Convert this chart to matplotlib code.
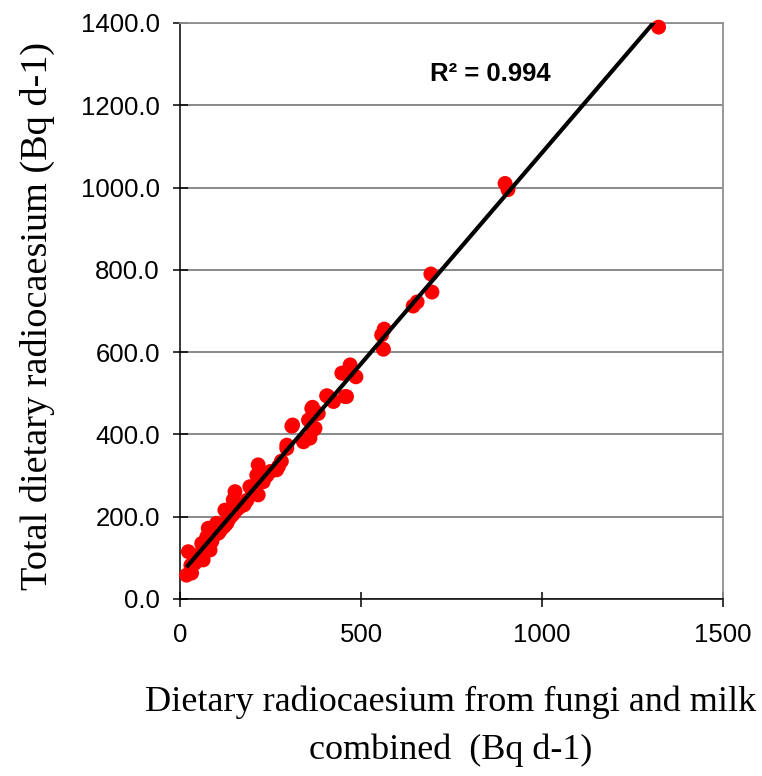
import numpy as np
import matplotlib
matplotlib.use("Agg")
import matplotlib.pyplot as plt
from matplotlib.ticker import FormatStrFormatter

# Data (Bq d-1)
fungi_milk = [1322, 898, 906, 693, 696, 655, 644, 564, 557, 562,
              470, 451, 486, 456, 408, 424, 366, 382, 359, 373,
              359, 341, 311, 295, 447, 460, 405, 364, 355, 368,
              309, 341, 295, 267, 272, 216, 212, 193, 216, 152,
              147, 175, 124, 133, 101, 78, 74, 60, 106, 83,
              64, 41, 23, 18, 32, 160, 140, 120, 90, 85,
              95, 110, 70, 55, 50, 45, 30, 100, 115, 130,
              145, 165, 185, 200, 230, 240, 280, 250, 62, 88,
              125, 150, 178, 205]
total_diet = [1390, 1010, 995, 790, 746, 722, 712, 656, 642, 607,
              569, 549, 540, 492, 493, 480, 466, 451, 435, 415,
              391, 382, 423, 374, 549, 492, 494, 463, 435, 411,
              420, 386, 366, 314, 322, 326, 301, 273, 253, 261,
              241, 228, 216, 192, 184, 172, 151, 135, 160, 119,
              95, 87, 115, 58, 63, 220, 200, 175, 150, 138,
              155, 165, 122, 108, 100, 95, 82, 160, 172, 185,
              205, 225, 240, 262, 285, 300, 335, 310, 118, 140,
              180, 210, 230, 262]
x_ticks = [0, 500, 1000, 1500]
y_ticks = [0, 200, 400, 600, 800, 1000, 1200, 1400]
r2_label = "R\u00b2 = 0.994"
x_label = "Dietary radiocaesium from fungi and milk\ncombined  (Bq d-1)"
y_label = "Total dietary radiocaesium (Bq d-1)"

fig = plt.figure(figsize=(7.62, 7.76), dpi=100)
ax = fig.add_axes([180/762, 1-599/776, 543/762, 576/776])

x = np.array(fungi_milk, dtype=float)
y = np.array(total_diet, dtype=float)
ax.scatter(x, y, s=115, color="#FF0000", edgecolors="none", zorder=3, clip_on=False)

coef = np.polyfit(x, y, 1)
xl = np.array([x.min(), x.max()])
ax.plot(xl, np.polyval(coef, xl), color="black", lw=3.0, zorder=4, solid_capstyle="butt")

ax.set_xlim(0, 1500)
ax.set_ylim(0, 1400)
ax.set_xticks(x_ticks)
ax.set_yticks(y_ticks)
ax.yaxis.set_major_formatter(FormatStrFormatter("%.1f"))

for lab in ax.get_xticklabels() + ax.get_yticklabels():
    lab.set_fontfamily("Liberation Sans")
    lab.set_fontsize(18.5)
ax.tick_params(axis="both", direction="inout", length=10.8, width=1.1, color="black")
ax.tick_params(axis="y", pad=9)
ax.tick_params(axis="x", pad=12)

ax.yaxis.grid(True, color="#808080", lw=1.3, zorder=0)
ax.set_axisbelow(True)
for side in ["top", "right"]:
    ax.spines[side].set_color("#909090")
    ax.spines[side].set_linewidth(1.3)
for side in ["left", "bottom"]:
    ax.spines[side].set_color("black")
    ax.spines[side].set_linewidth(1.1)

ax.text(0.571, 0.912, r2_label, transform=ax.transAxes, ha="center", va="center",
        fontfamily="Liberation Sans", fontweight="bold", fontsize=18.5)

fig.text(451/762, 1-726/776, x_label, ha="center", va="center",
         fontfamily="Liberation Serif", fontsize=26, linespacing=1.55)
fig.text(37/762, 1-316/776, y_label, ha="center", va="center", rotation=90,
         fontfamily="Liberation Serif", fontsize=27.5)

fig.savefig("out.png", dpi=100)
